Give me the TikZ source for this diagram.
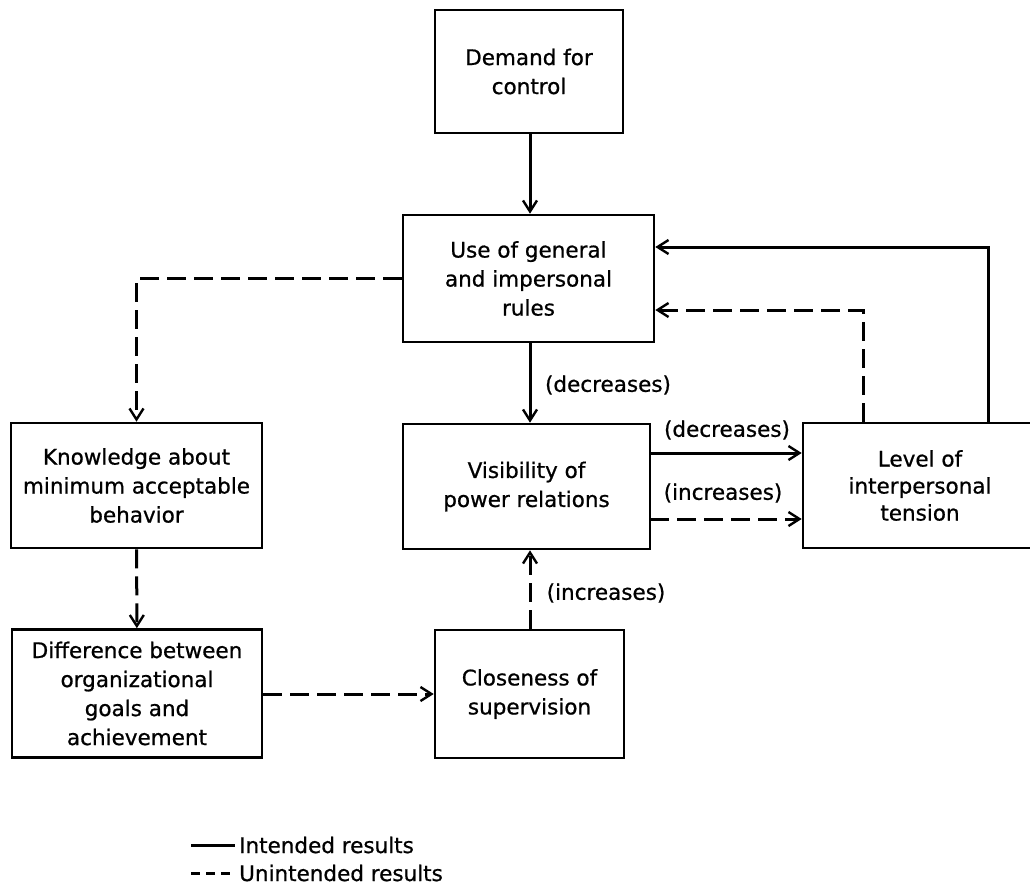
\documentclass[tikz,border=0pt]{standalone}
\usepackage{fontspec}
\setmainfont{DejaVu Sans}[FakeBold=0.8]
\usetikzlibrary{arrows.meta}

\begin{document}
\begin{tikzpicture}[x=1pt,y=-1pt,
  txt/.style={font=\fontsize{21.5}{29}\selectfont},
  box/.style={draw, line width=2.6pt, rectangle, align=center,
    inner sep=0pt, txt},
  lbl/.style={txt, inner sep=0pt},
  conn/.style={line width=3pt, -{Straight Barb[length=11pt,width=14pt,line width=2.4pt]}},
  intended/.style={conn},
  unintended/.style={conn, dash pattern=on 19pt off 8pt},
]
\useasboundingbox (0,0) rectangle (1030,892);

% boxes
\node[box, minimum width=188pt, minimum height=123pt] (demand) at (529,71.5) {Demand for\\control};
\node[box, minimum width=251pt, minimum height=127pt] (use) at (528.5,278.5) {Use of general\\and impersonal\\rules};
\node[box, minimum width=247pt, minimum height=125pt] (vis) at (526.5,486.5) {Visibility of\\power relations};
\node[box, minimum width=234pt, minimum height=125pt,
      font=\fontsize{21.5}{27}\selectfont] (level) at (920,485.5) {Level of\\interpersonal\\tension};
\node[box, minimum width=251pt, minimum height=125pt] (know) at (136.5,485.5) {Knowledge about\\minimum acceptable\\behavior};
\node[box, minimum width=250pt, minimum height=128pt] (diff) at (137,693.5) {Difference between\\organizational\\goals and\\achievement};
\node[box, minimum width=189pt, minimum height=128pt] (close) at (529.5,694) {Closeness of\\supervision};

% turning points of the feedback lines and side exits
\coordinate (fbSolid) at (988,247);
\coordinate (fbDash) at (863,310);
\coordinate (visDec) at (650,453);
\coordinate (visInc) at (650,519);
\coordinate (axis) at (530,0);

% connectors
\draw[intended] (demand.south -| axis) -- (use.north -| axis);
\draw[intended] (use.south -| axis) -- (vis.north -| axis);
\draw[unintended] (use.west) -| (know.north);
\draw[unintended] (know) -- (diff);
\draw[unintended] (diff.east |- close.west) -- (close.west);
\draw[unintended] (close.north -| axis) -- (vis.south -| axis);
\draw[intended] (visDec) -- (level.west |- visDec);
\draw[unintended] (visInc) -- (level.west |- visInc);
\draw[intended] (level.north -| fbSolid) -- (fbSolid) -- (use.east |- fbSolid);
\draw[unintended] (level.north -| fbDash) -- (fbDash) -- (use.east |- fbDash);

% effect labels
\node[lbl] (lDec1) at (608,385) {(decreases)};
\node[lbl] (lDec2) at (727,430) {(decreases)};
\node[lbl] (lInc1) at (723,493) {(increases)};
\node[lbl] (lInc2) at (606,593) {(increases)};

% legend
\coordinate (legA) at (191,845);
\coordinate (legB) at (235,845);
\coordinate (legC) at (191,873);
\coordinate (legD) at (235,873);
\draw[line width=3pt] (legA) -- (legB);
\draw[line width=3pt, dash pattern=on 9pt off 6pt] (legC) -- (legD);
\node[lbl, anchor=west] (legI) at (239,845) {Intended results};
\node[lbl, anchor=west] (legU) at (239,873) {Unintended results};
\end{tikzpicture}
\end{document}
